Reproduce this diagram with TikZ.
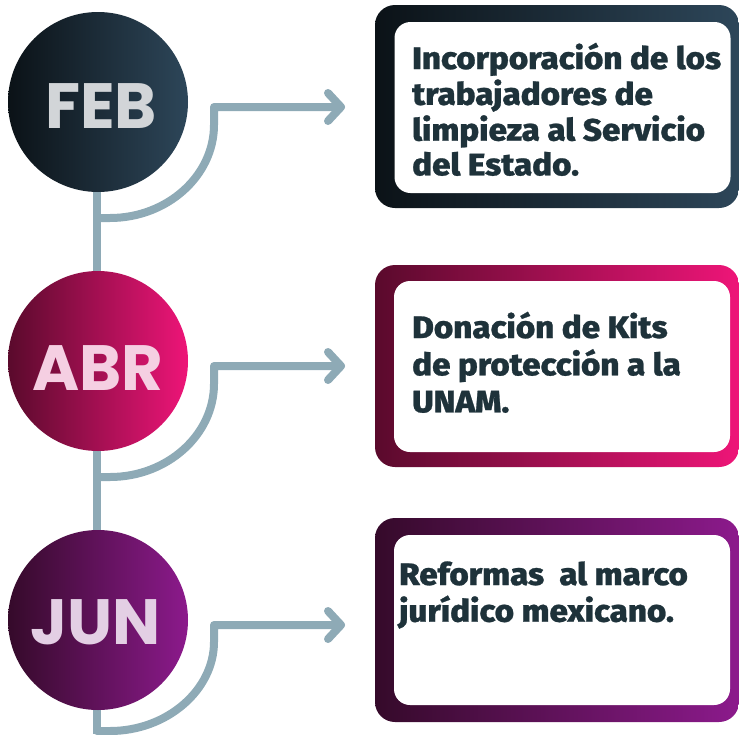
\documentclass[tikz,border=0pt]{standalone}
\usepackage{fontspec}
\setmainfont{Fira Sans}
\newfontfamily\bodyfont{Fira Sans ExtraBold}[FakeStretch=1.07, FakeBold=0.8]
\newfontfamily\monthfont{Poppins}
\definecolor{linecol}{HTML}{8EAAB6}
\definecolor{txtcol}{HTML}{1E323A}
\definecolor{febL}{HTML}{0B1217}
\definecolor{febR}{HTML}{2D4659}
\definecolor{abrL}{HTML}{5A0A2C}
\definecolor{abrR}{HTML}{EE1578}
\definecolor{junL}{HTML}{350A2A}
\definecolor{junR}{HTML}{8C1A8C}
\definecolor{febT}{HTML}{D2D5D8}
\definecolor{abrT}{HTML}{F5CFE2}
\definecolor{junT}{HTML}{E3CFE4}
\begin{document}
\begin{tikzpicture}[x=1pt,y=-1pt,
  conn/.style={draw=linecol, line width=8pt, line cap=round, line join=round},
  disc/.style={circle, minimum size=180pt, inner sep=0pt},
  month/.style={font=\monthfont\bfseries\fontsize{64}{64}\selectfont, anchor=base, inner sep=0pt},
  outerbox/.style={rectangle, rounded corners=20pt, minimum width=364pt, inner sep=0pt},
  innerbox/.style={rectangle, rounded corners=16pt, fill=white, minimum width=336pt, inner sep=0pt},
  body/.style={font=\bodyfont\fontsize{31}{35}\selectfont, text=txtcol, anchor=base west, inner sep=0pt},
]
\useasboundingbox (0,0) rectangle (739,734);
% main timeline
\coordinate (top) at (97,102);
\coordinate (bot) at (97,734);
\draw[linecol, line width=8pt] (top) -- (bot);

% ---------- FEB ----------
\node[disc, left color=febL, right color=febR] (feb) at (98,102) {};
\node[month, text=febT] (febl) at (101,128) {FEB};
\coordinate (s1) at (97,218);
\coordinate (t1) at (341,107);
\draw[conn] (s1) -- (110,218) .. controls (167,218) and (214,176) .. (214,125) -- (214,107) -- (t1);
\draw[conn] (328,93) -- (t1) -- (328,121);
\node[outerbox, minimum height=203pt, left color=febL, right color=febR] (box1) at (557,106.5) {};
\node[innerbox, minimum height=171pt] (in1) at (562.5,107.5) {};
\node[body] (txt1) at (412,69) {\fontsize{31}{34.7}\selectfont\begin{tabular}[t]{@{}l@{}}Incorporación de los\\trabajadores de\\limpieza al Servicio\\del Estado.\end{tabular}};

% ---------- ABR ----------
\node[disc, left color=abrL, right color=abrR] (abr) at (98,361) {};
\node[month, text=abrT] (abrl) at (98,390) {ABR};
\coordinate (s2) at (97,477);
\coordinate (t2) at (341,366);
\draw[conn] (s2) -- (110,477) .. controls (167,477) and (214,435) .. (214,384) -- (214,366) -- (t2);
\draw[conn] (328,352) -- (t2) -- (328,380);
\node[outerbox, minimum height=202pt, left color=abrL, right color=abrR] (box2) at (557,366) {};
\node[innerbox, minimum height=171pt] (in2) at (562,366.5) {};
\node[body] (txt2) at (412,338) {\fontsize{31}{37}\selectfont\begin{tabular}[t]{@{}l@{}}Donación de Kits\\de protección a la\\UNAM.\end{tabular}};

% ---------- JUN ----------
\node[disc, left color=junL, right color=junR] (jun) at (98,620) {};
\node[month, text=junT] (junl) at (96,644) {JUN};
\coordinate (s3) at (97,731);
\coordinate (t3) at (341,625);
\draw[conn] (s3) -- (110,731) .. controls (167,731) and (214,690) .. (214,642) -- (214,625) -- (t3);
\draw[conn] (328,611) -- (t3) -- (328,639);
\node[outerbox, minimum height=204pt, left color=junL, right color=junR] (box3) at (557,620) {};
\node[innerbox, minimum height=170pt] (in3) at (562,620) {};
\node[body] (txt3) at (399,585) {\fontsize{31}{35}\selectfont\begin{tabular}[t]{@{}l@{}}Reformas\ \ al marco\\jurídico mexicano.\end{tabular}};
\end{tikzpicture}
\end{document}
